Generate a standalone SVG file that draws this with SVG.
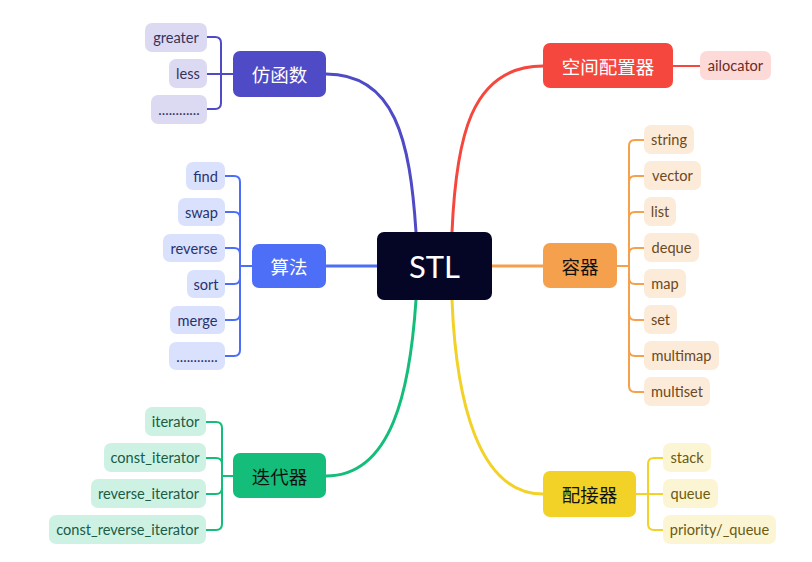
<svg xmlns="http://www.w3.org/2000/svg" width="812" height="562" viewBox="0 0 812 562">
<style>
.c{font-family:Lato,"Noto Sans",sans-serif;font-size:14.6px;text-anchor:middle;dominant-baseline:central}
.p{font-family:"Noto Sans CJK SC","Noto Sans",sans-serif;font-size:18.5px;text-anchor:middle;dominant-baseline:central}
.ln{fill:none;stroke-width:2;stroke-linecap:round}
.mn{fill:none;stroke-width:3}
</style>
<rect width="812" height="562" fill="#ffffff"/>
<g id="connectors">
<path class="mn" stroke="#4f4ac6" d="M326,74 C395,74 410,140 416,232"/>
<path class="mn" stroke="#f5473d" d="M543,66 C470,66 456,140 452,232"/>
<path class="mn" stroke="#4d6ef7" d="M326,266 H377"/>
<path class="mn" stroke="#f5a04d" d="M492,266 H543"/>
<path class="mn" stroke="#14bd7a" d="M326,476 C392,476 410,390 416,300"/>
<path class="mn" stroke="#f2d227" d="M543,494 C478,494 456,400 452,300"/>
<g stroke="#4f4ac6">
<path class="ln" d="M207,37 H215 Q221,37 221,43 V74 M207,74 H233 M207,109 H215 Q221,109 221,103 V74"/>
</g>
<g stroke="#4d6ef7">
<path class="ln" d="M225,176 H234 Q240,176 240,182 V266 M225,212 H234 Q240,212 240,218 V266 M225,248 H234 Q240,248 240,254 V266 M225,284 H234 Q240,284 240,278 V266 M225,320 H234 Q240,320 240,314 V266 M225,356 H234 Q240,356 240,350 V266 M240,266 H252"/>
</g>
<g stroke="#14bd7a">
<path class="ln" d="M206,422 H216 Q222,422 222,428 V476 M206,458 H216 Q222,458 222,464 V476 M206,494 H216 Q222,494 222,488 V476 M206,530 H216 Q222,530 222,524 V476 M222,476 H233"/>
</g>
<g stroke="#f5473d">
<path class="ln" d="M673,66 H700"/>
</g>
<g stroke="#f5a04d">
<path class="ln" d="M617,266 H629 M644,140 H635 Q629,140 629,146 V266 M644,176 H635 Q629,176 629,182 V266 M644,212 H635 Q629,212 629,218 V266 M644,248 H635 Q629,248 629,254 V266 M644,284 H635 Q629,284 629,278 V266 M644,320 H635 Q629,320 629,314 V266 M644,356 H635 Q629,356 629,350 V266 M644,392 H635 Q629,392 629,386 V266"/>
</g>
<g stroke="#f2d227">
<path class="ln" d="M636,494 H663 M663,458 H654 Q648,458 648,464 V494 M663,530 H654 Q648,530 648,524 V494"/>
</g>
</g>
<g id="stl"><rect x="377" y="232" width="115" height="68" rx="7" fill="#050525"/><text x="434.5" y="266" class="c" style="font-size:31px" fill="#ffffff">STL</text></g>
<g id="fanghanshu"><rect x="233" y="51" width="93" height="46" rx="7" fill="#4f4ac6"/><text x="279.5" y="74" class="p" fill="#ffffff">仿函数</text></g>
<g id="suanfa"><rect x="252" y="244" width="74" height="44" rx="7" fill="#4d6ef7"/><text x="289" y="266" class="p" fill="#ffffff">算法</text></g>
<g id="diedaiqi"><rect x="233" y="453" width="93" height="45" rx="7" fill="#14bd7a"/><text x="279.5" y="476" class="p" fill="#111111">迭代器</text></g>
<g id="kongjian"><rect x="543" y="43" width="130" height="45" rx="7" fill="#f5473d"/><text x="608" y="66" class="p" fill="#ffffff">空间配置器</text></g>
<g id="rongqi"><rect x="543" y="243" width="74" height="45" rx="7" fill="#f5a04d"/><text x="580" y="266" class="p" fill="#111111">容器</text></g>
<g id="peijieqi"><rect x="543" y="471" width="93" height="46" rx="7" fill="#f2d227"/><text x="589.5" y="494" class="p" fill="#111111">配接器</text></g>
<g id="f-children" fill="#dcdaf3">
<g id="greater"><rect x="145" y="23" width="62" height="29" rx="7"/><text x="176" y="37.5" class="c" fill="#35335e">greater</text></g>
<g id="less"><rect x="169" y="59" width="38" height="29" rx="7"/><text x="188" y="73.5" class="c" fill="#35335e">less</text></g>
<g id="f-dots"><rect x="151" y="95" width="56" height="29" rx="7"/><text x="179" y="109.5" class="c" fill="#35335e">............</text></g>
</g>
<g id="a-children" fill="#dae1fd">
<g id="find"><rect x="186" y="162" width="39" height="28" rx="7"/><text x="205.5" y="176" class="c" fill="#28336e">find</text></g>
<g id="swap"><rect x="178" y="198" width="47" height="28" rx="7"/><text x="201.5" y="212" class="c" fill="#28336e">swap</text></g>
<g id="reverse"><rect x="163" y="234" width="62" height="28" rx="7"/><text x="194" y="248" class="c" fill="#28336e">reverse</text></g>
<g id="sort"><rect x="187" y="270" width="38" height="28" rx="7"/><text x="206" y="284" class="c" fill="#28336e">sort</text></g>
<g id="merge"><rect x="170" y="306" width="55" height="28" rx="7"/><text x="197.5" y="320" class="c" fill="#28336e">merge</text></g>
<g id="a-dots"><rect x="169" y="342" width="56" height="28" rx="7"/><text x="197" y="356" class="c" fill="#28336e">............</text></g>
</g>
<g id="i-children" fill="#cdf2e4">
<g id="iterator"><rect x="145" y="407" width="61" height="29" rx="7"/><text x="175.5" y="421.5" class="c" fill="#1a5c44">iterator</text></g>
<g id="const_iterator"><rect x="104" y="443" width="102" height="29" rx="7"/><text x="155" y="457.5" class="c" fill="#1a5c44">const_iterator</text></g>
<g id="reverse_iterator"><rect x="91" y="479" width="115" height="29" rx="7"/><text x="148.5" y="493.5" class="c" fill="#1a5c44">reverse_iterator</text></g>
<g id="const_reverse_iterator"><rect x="49" y="515" width="157" height="29" rx="7"/><text x="127.5" y="529.5" class="c" fill="#1a5c44">const_reverse_iterator</text></g>
</g>
<g id="ailocator"><rect x="700" y="51" width="71" height="29" rx="7" fill="#fdd9d8"/><text x="735.5" y="65.5" class="c" fill="#6b2b28">ailocator</text></g>
<g id="r-children" fill="#fdebd9">
<g id="string"><rect x="644" y="125" width="50" height="29" rx="7"/><text x="669" y="139.5" class="c" fill="#6b4924">string</text></g>
<g id="vector"><rect x="644" y="161" width="57" height="29" rx="7"/><text x="672.5" y="175.5" class="c" fill="#6b4924">vector</text></g>
<g id="list"><rect x="644" y="197" width="32" height="29" rx="7"/><text x="660" y="211.5" class="c" fill="#6b4924">list</text></g>
<g id="deque"><rect x="644" y="233" width="55" height="29" rx="7"/><text x="671.5" y="247.5" class="c" fill="#6b4924">deque</text></g>
<g id="map"><rect x="644" y="269" width="42" height="29" rx="7"/><text x="665" y="283.5" class="c" fill="#6b4924">map</text></g>
<g id="set"><rect x="644" y="305" width="33" height="29" rx="7"/><text x="660.5" y="319.5" class="c" fill="#6b4924">set</text></g>
<g id="multimap"><rect x="644" y="341" width="75" height="29" rx="7"/><text x="681.5" y="355.5" class="c" fill="#6b4924">multimap</text></g>
<g id="multiset"><rect x="644" y="377" width="66" height="29" rx="7"/><text x="677" y="391.5" class="c" fill="#6b4924">multiset</text></g>
</g>
<g id="p-children" fill="#fcf5d3">
<g id="stack"><rect x="663" y="443" width="48" height="29" rx="7"/><text x="687" y="457.5" class="c" fill="#6b5a12">stack</text></g>
<g id="queue"><rect x="663" y="479" width="55" height="29" rx="7"/><text x="690.5" y="493.5" class="c" fill="#6b5a12">queue</text></g>
<g id="priority_queue"><rect x="663" y="515" width="113" height="29" rx="7"/><text x="719.5" y="529.5" class="c" fill="#6b5a12">priority/_queue</text></g>
</g>
</svg>
